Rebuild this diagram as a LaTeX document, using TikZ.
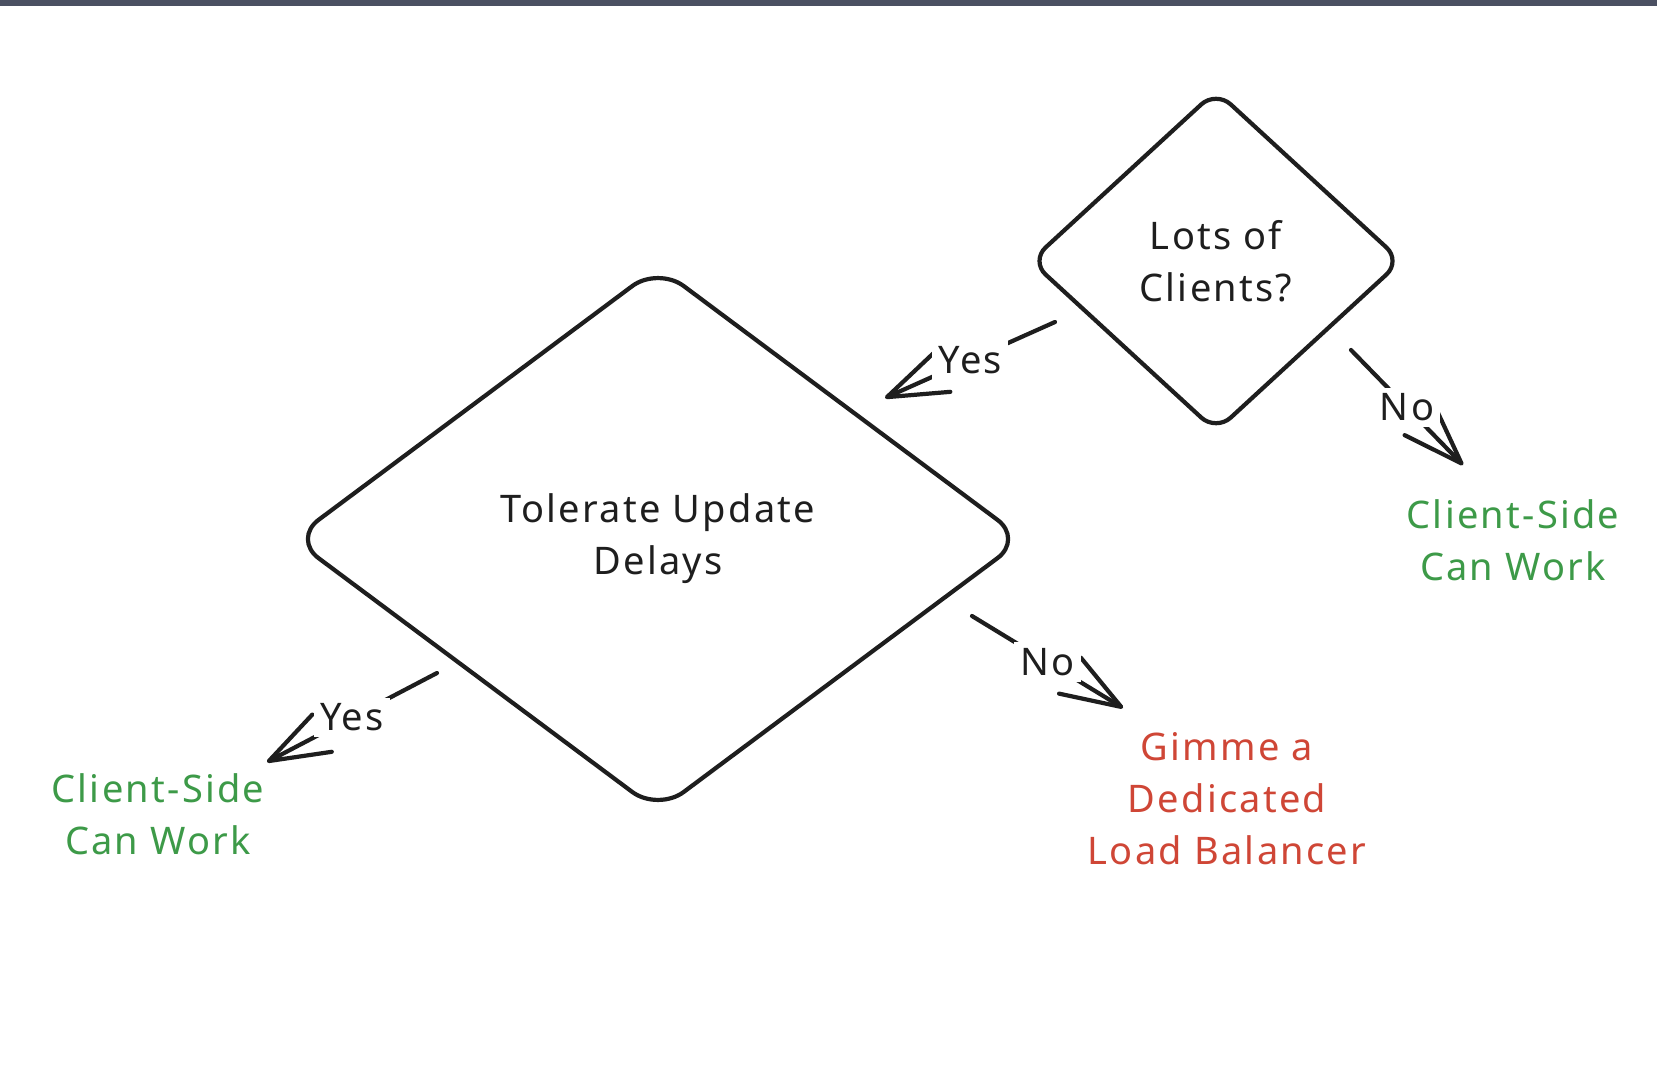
\documentclass[tikz,border=0pt]{standalone}
\usepackage{fontspec}
\setmainfont[LetterSpace=6]{Noto Sans}
\usetikzlibrary{shapes.geometric,arrows.meta,calc}
\definecolor{ink}{HTML}{1E1E1E}
\definecolor{topbar}{HTML}{4B5062}
\definecolor{okgreen}{HTML}{3D9A48}
\definecolor{badred}{HTML}{CF4636}
\tikzset{
  decision/.style={diamond, draw=ink, line width=2.1pt, inner sep=0pt, align=center, text=ink,
    font=\fontsize{19}{26}\selectfont},
  outcome/.style={align=center, font=\fontsize{19}{26}\selectfont},
  conn/.style={draw=ink, line width=2.1pt, line cap=round,
    -{Straight Barb[length=30pt,width=21pt,line cap=round,line join=round]}},
  lab/.style={fill=white, inner sep=3pt, text=ink, font=\fontsize{19}{22}\selectfont}
}
\begin{document}
\begin{tikzpicture}[x=0.5pt,y=-0.5pt]
\fill[white] (0,0) rectangle (1657,1064);
\useasboundingbox (0,0) rectangle (1657,1064);
\fill[topbar] (0,0) rectangle (1657,6);

\node[decision, minimum width=186pt, minimum height=171pt, rounded corners=10pt] (lots) at (1216,261) {Lots of\\Clients?};
\node[decision, minimum width=366pt, minimum height=273pt, rounded corners=16pt] (tol) at (658,539) {Tolerate Update\\Delays};

\node[outcome, text=okgreen] (csr) at (1513,540) {Client-Side\\Can Work};
\node[outcome, text=okgreen] (csl) at (158,814) {Client-Side\\Can Work};
\node[outcome, text=badred] (lb) at (1227,799) {Gimme a\\Dedicated\\Load Balancer};

\coordinate (y1s) at ($(lots.center)+(-161,61)$);
\coordinate (y1e) at ($(tol.center)+(227,-141)$);
\coordinate (n1s) at ($(lots.center)+(135,89)$);
\coordinate (n1e) at ($(csr.center)+(-50,-75)$);
\coordinate (n2s) at ($(tol.center)+(314,77)$);
\coordinate (n2e) at ($(lb.center)+(-104,-91)$);
\coordinate (y2s) at ($(tol.center)+(-221,134)$);
\coordinate (y2e) at ($(csl.center)+(109,-52)$);

\draw[conn] (y1s) -- node[lab] (ly1) {Yes} (y1e);
\draw[conn] (n1s) -- node[lab] (ln1) {No} (n1e);
\draw[conn] (n2s) -- node[lab] (ln2) {No} (n2e);
\draw[conn] (y2s) -- node[lab] (ly2) {Yes} (y2e);
\end{tikzpicture}
\end{document}
